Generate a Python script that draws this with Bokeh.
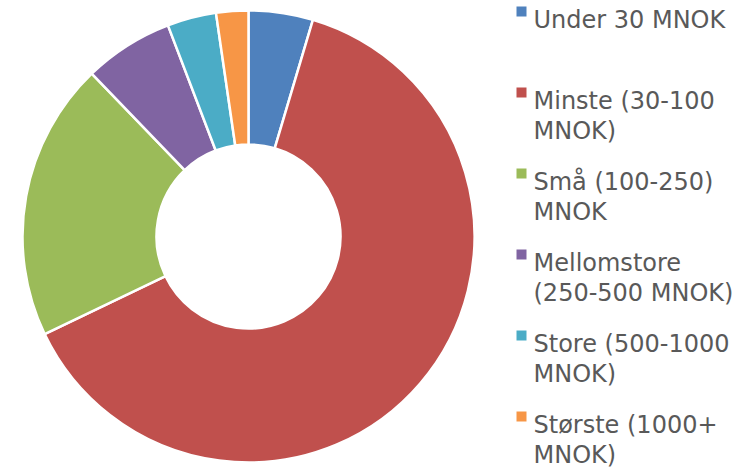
import numpy as np
from bokeh.plotting import figure
from bokeh.models import Range1d, ColumnDataSource
from bokeh.core.properties import value
from bokeh.embed import file_html
from bokeh.resources import INLINE

# ---- data ----
categories = [
    "Under 30 MNOK",
    "Minste (30-100\nMNOK)",
    "Små (100-250)\nMNOK",
    "Mellomstore\n(250-500 MNOK)",
    "Store (500-1000\nMNOK)",
    "Største (1000+\nMNOK)",
]
shares = [4.6, 63.3, 19.9, 6.4, 3.5, 2.3]
colors = ["#4F81BD", "#C0504D", "#9BBB59", "#8064A2", "#4BACC6", "#F79646"]

# ---- layout (picture pixels) ----
W, H = 747, 467
CX, CY = 248, 236          # donut centre in picture
R_OUT, R_IN = 226, 92

p = figure(width=W, height=H, output_backend="svg", toolbar_location=None,
           x_range=Range1d(-CX, W - CX),
           y_range=Range1d(CY - H, CY),
           x_axis_location=None, y_axis_location=None, min_border=0)
p.grid.visible = False
p.outline_line_color = None
p.background_fill_color = "white"
p.border_fill_color = "white"

frac = np.array(shares) / sum(shares)
cum = np.concatenate([[0.0], np.cumsum(frac)])
start = np.pi / 2 - cum[1:] * 2 * np.pi
end = np.pi / 2 - cum[:-1] * 2 * np.pi
src = ColumnDataSource(dict(start=start, end=end, color=colors))
p.annular_wedge(x=0, y=0, inner_radius=R_IN, outer_radius=R_OUT,
                start_angle="start", end_angle="end", color="color",
                line_color="white", line_width=2.5, source=src)

# ---- legend (manual) ----
first_cap = 1       # picture y of first label's cap top
step = 81
line_h = 30
cap_h = 18
sq_x = 521 - CX
tx = 533 - CX
sx, sy, tx_l, ty_l, tt = [], [], [], [], []
for i, lab in enumerate(categories):
    cap = first_cap + step * i
    sx.append(sq_x)
    sy.append(CY - (cap + 10))
    for j, line in enumerate(lab.split("\n")):
        tx_l.append(tx)
        ty_l.append(CY - (cap + cap_h + j * line_h))
        tt.append(line)

p.rect(x=sx, y=sy, width=10, height=10, color=colors, line_color=None)
p.text(x=tx_l, y=ty_l, text=tt, text_font=value("DejaVu Sans"),
       text_font_size="24px", text_color="#595959", text_baseline="alphabetic",
       text_align="left")

open("out.html", "w").write(file_html(p, INLINE))
